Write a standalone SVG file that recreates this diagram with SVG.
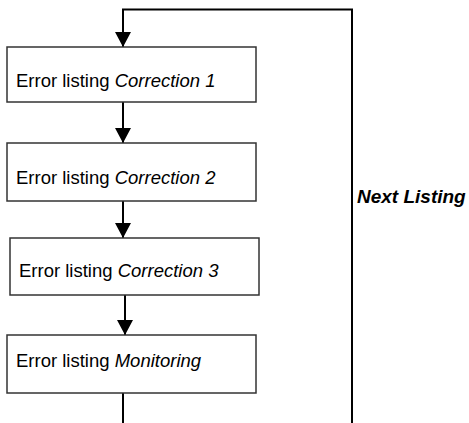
<svg xmlns="http://www.w3.org/2000/svg" width="469" height="423" viewBox="0 0 469 423">
  <style>
    .box { fill: #ffffff; stroke: #333333; stroke-width: 1.5; }
    .lbl { font-family: "Liberation Sans", Arial, sans-serif; font-size: 18.5px; fill: #000000; }
    .it { font-style: italic; }
    .edge { fill: none; stroke: #000000; stroke-width: 2; }
    .loop-label { font-family: "Liberation Sans", Arial, sans-serif; font-size: 19px; font-weight: bold; font-style: italic; fill: #000000; }
  </style>
  <defs>
    <marker id="arrow" markerWidth="15" markerHeight="16" refX="15" refY="8" orient="auto" markerUnits="userSpaceOnUse">
      <path d="M0,0 L15,8 L0,16 Z" fill="#000000"/>
    </marker>
  </defs>

  <rect width="469" height="423" fill="#ffffff"/>

  <g id="connectors">
    <path class="edge" d="M352,423 L352,9.5 L123,9.5 L123,47" marker-end="url(#arrow)"/>
    <path class="edge" d="M123,102 L123,143" marker-end="url(#arrow)"/>
    <path class="edge" d="M123,201 L123,238" marker-end="url(#arrow)"/>
    <path class="edge" d="M125,295 L125,335" marker-end="url(#arrow)"/>
    <path class="edge" d="M123,393 L123,423"/>
    <text class="loop-label" x="357" y="203">Next Listing</text>
  </g>

  <g id="node-correction-1">
    <rect class="box" x="7" y="47" width="249" height="55"/>
    <text class="lbl" x="16" y="87">Error listing <tspan class="it">Correction 1</tspan></text>
  </g>

  <g id="node-correction-2">
    <rect class="box" x="7" y="143" width="249" height="58"/>
    <text class="lbl" x="16" y="184">Error listing <tspan class="it">Correction 2</tspan></text>
  </g>

  <g id="node-correction-3">
    <rect class="box" x="10" y="238" width="249" height="57"/>
    <text class="lbl" x="19" y="277">Error listing <tspan class="it">Correction 3</tspan></text>
  </g>

  <g id="node-monitoring">
    <rect class="box" x="7" y="335" width="249" height="58"/>
    <text class="lbl" x="16" y="367">Error listing <tspan class="it">Monitoring</tspan></text>
  </g>
</svg>
